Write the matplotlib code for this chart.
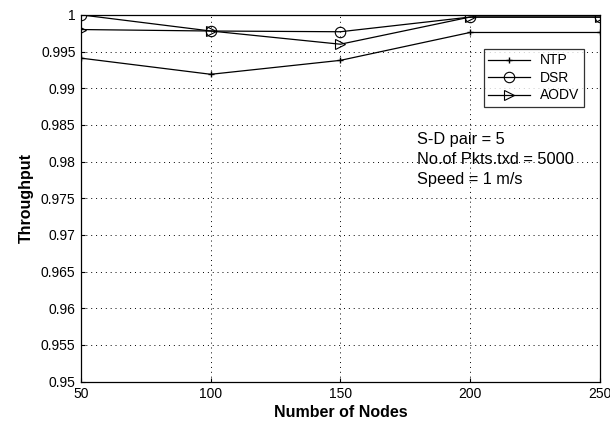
import matplotlib
matplotlib.use("Agg")
import matplotlib.pyplot as plt

plt.rcParams['font.family'] = ['Liberation Sans', 'DejaVu Sans']

nodes = [50, 100, 150, 200, 250]
ntp = [0.9941, 0.9919, 0.9938, 0.9976, 0.9976]
dsr = [1.0000, 0.9978, 0.9977, 0.9997, 0.9997]
aodv = [0.9980, 0.9978, 0.9960, 0.9997, 0.9997]

y_ticks = [0.95, 0.955, 0.96, 0.965, 0.97, 0.975, 0.98, 0.985, 0.99, 0.995, 1.0]
y_tick_labels = ['0.95', '0.955', '0.96', '0.965', '0.97', '0.975', '0.98',
                 '0.985', '0.99', '0.995', '1']
x_ticks = [50, 100, 150, 200, 250]

fig = plt.figure(figsize=(6.1, 4.25), dpi=100)
ax = fig.add_axes([0.133, 0.102, 0.850, 0.863])

ax.plot(nodes, ntp, color='black', lw=0.9, marker='+', ms=5, mew=1.0, label='NTP')
ax.plot(nodes, dsr, color='black', lw=0.9, marker='o', ms=7.5, mfc='none', mew=0.8, label='DSR')
ax.plot(nodes, aodv, color='black', lw=0.9, marker='>', ms=7.5, mfc='none', mew=0.8, label='AODV')

ax.set_xlim(50, 250)
ax.set_ylim(0.95, 1.0)
ax.set_xticks(x_ticks)
ax.set_yticks(y_ticks)
ax.set_yticklabels(y_tick_labels)
ax.tick_params(labelsize=10, direction='in', length=3, width=0.8, pad=4)
ax.grid(True, color='black', linestyle=(0, (1, 4)), linewidth=0.7)
for s in ax.spines.values():
    s.set_linewidth(0.9)

ax.set_xlabel('Number of Nodes', fontsize=11.5, fontweight='bold', labelpad=3)
ax.set_ylabel('Throughput', fontsize=11.5, fontweight='bold', labelpad=5)

leg = ax.legend(loc='upper right', bbox_to_anchor=(0.983, 0.927), fontsize=10,
                frameon=True, fancybox=False, edgecolor='black',
                handlelength=3.0, borderpad=0.35, labelspacing=0.25,
                handletextpad=0.7)
leg.get_frame().set_linewidth(0.9)

ax.text(0.647, 0.661, 'S-D pair = 5', transform=ax.transAxes, fontsize=11.8, va='center')
ax.text(0.647, 0.605, 'No.of Pkts.txd = 5000', transform=ax.transAxes, fontsize=11.8, va='center')
ax.text(0.647, 0.551, 'Speed = 1 m/s', transform=ax.transAxes, fontsize=11.8, va='center')

fig.savefig('out.png', dpi=100)
